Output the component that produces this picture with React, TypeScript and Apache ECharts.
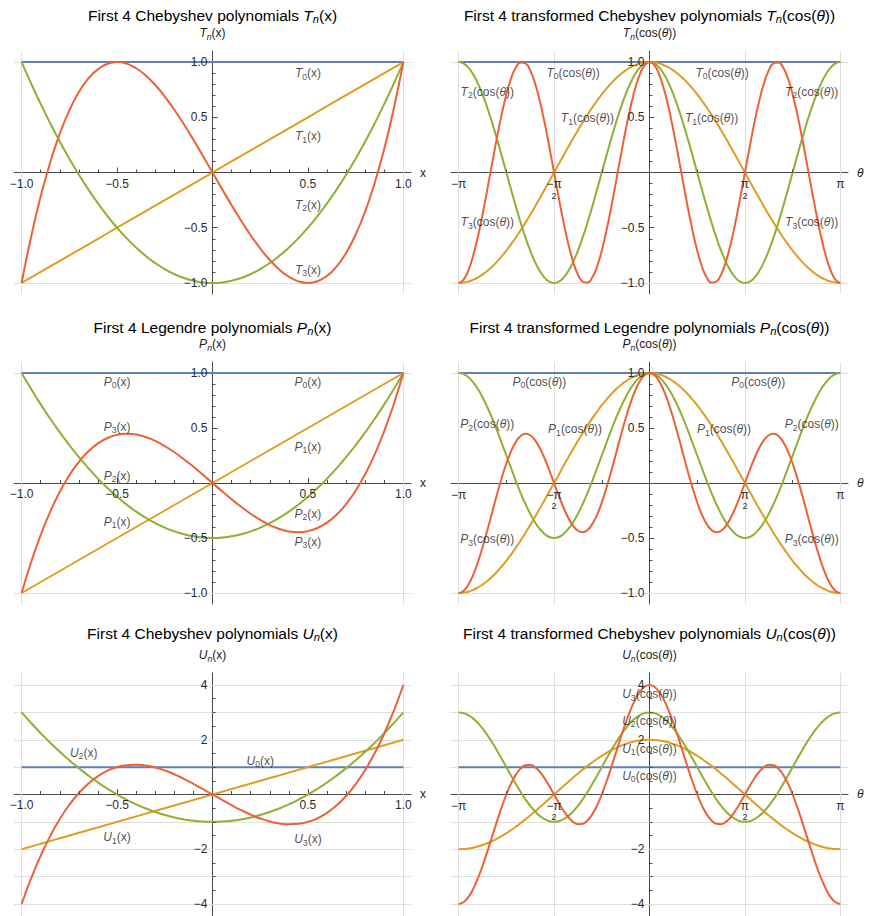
import React, { useEffect, useRef } from 'react';
import * as echarts from 'echarts';

// ---------- data ----------
const xs = [-1, -0.95, -0.9, -0.85, -0.8, -0.75, -0.7, -0.65, -0.6, -0.55, -0.5, -0.45, -0.4, -0.35, -0.3, -0.25, -0.2, -0.15, -0.1, -0.05, 0, 0.05, 0.1, 0.15, 0.2, 0.25, 0.3, 0.35, 0.4, 0.45, 0.5, 0.55, 0.6, 0.65, 0.7, 0.75, 0.8, 0.85, 0.9, 0.95, 1];
// theta in units of pi
const thetaPi = [-1, -0.975, -0.95, -0.925, -0.9, -0.875, -0.85, -0.825, -0.8, -0.775, -0.75, -0.725, -0.7, -0.675, -0.65, -0.625, -0.6, -0.575, -0.55, -0.525, -0.5, -0.475, -0.45, -0.425, -0.4, -0.375, -0.35, -0.325, -0.3, -0.275, -0.25, -0.225, -0.2, -0.175, -0.15, -0.125, -0.1, -0.075, -0.05, -0.025, 0, 0.025, 0.05, 0.075, 0.1, 0.125, 0.15, 0.175, 0.2, 0.225, 0.25, 0.275, 0.3, 0.325, 0.35, 0.375, 0.4, 0.425, 0.45, 0.475, 0.5, 0.525, 0.55, 0.575, 0.6, 0.625, 0.65, 0.675, 0.7, 0.725, 0.75, 0.775, 0.8, 0.825, 0.85, 0.875, 0.9, 0.925, 0.95, 0.975, 1];
const constEnds = [-1, 1];
const constOnes = [1, 1];

const t1x = [-1, -0.95, -0.9, -0.85, -0.8, -0.75, -0.7, -0.65, -0.6, -0.55, -0.5, -0.45, -0.4, -0.35, -0.3, -0.25, -0.2, -0.15, -0.1, -0.05, 0, 0.05, 0.1, 0.15, 0.2, 0.25, 0.3, 0.35, 0.4, 0.45, 0.5, 0.55, 0.6, 0.65, 0.7, 0.75, 0.8, 0.85, 0.9, 0.95, 1];
const t2x = [1, 0.805, 0.62, 0.445, 0.28, 0.125, -0.02, -0.155, -0.28, -0.395, -0.5, -0.595, -0.68, -0.755, -0.82, -0.875, -0.92, -0.955, -0.98, -0.995, -1, -0.995, -0.98, -0.955, -0.92, -0.875, -0.82, -0.755, -0.68, -0.595, -0.5, -0.395, -0.28, -0.155, -0.02, 0.125, 0.28, 0.445, 0.62, 0.805, 1];
const t3x = [-1, -0.5795, -0.216, 0.0935, 0.352, 0.5625, 0.728, 0.8515, 0.936, 0.9845, 1, 0.9855, 0.944, 0.8785, 0.792, 0.6875, 0.568, 0.4365, 0.296, 0.1495, 0, -0.1495, -0.296, -0.4365, -0.568, -0.6875, -0.792, -0.8785, -0.944, -0.9855, -1, -0.9845, -0.936, -0.8515, -0.728, -0.5625, -0.352, -0.0935, 0.216, 0.5795, 1];

const p1x = [-1, -0.95, -0.9, -0.85, -0.8, -0.75, -0.7, -0.65, -0.6, -0.55, -0.5, -0.45, -0.4, -0.35, -0.3, -0.25, -0.2, -0.15, -0.1, -0.05, 0, 0.05, 0.1, 0.15, 0.2, 0.25, 0.3, 0.35, 0.4, 0.45, 0.5, 0.55, 0.6, 0.65, 0.7, 0.75, 0.8, 0.85, 0.9, 0.95, 1];
const p2x = [1, 0.854, 0.715, 0.584, 0.46, 0.344, 0.235, 0.134, 0.04, -0.046, -0.125, -0.196, -0.26, -0.316, -0.365, -0.406, -0.44, -0.466, -0.485, -0.496, -0.5, -0.496, -0.485, -0.466, -0.44, -0.406, -0.365, -0.316, -0.26, -0.196, -0.125, -0.046, 0.04, 0.134, 0.235, 0.344, 0.46, 0.584, 0.715, 0.854, 1];
const p3x = [-1, -0.7184, -0.4725, -0.2603, -0.08, 0.0703, 0.1925, 0.2884, 0.36, 0.4091, 0.4375, 0.4472, 0.44, 0.4178, 0.3825, 0.3359, 0.28, 0.2166, 0.1475, 0.0747, 0, -0.0747, -0.1475, -0.2166, -0.28, -0.3359, -0.3825, -0.4178, -0.44, -0.4472, -0.4375, -0.4091, -0.36, -0.2884, -0.1925, -0.0703, 0.08, 0.2603, 0.4725, 0.7184, 1];

const u1x = [-2, -1.9, -1.8, -1.7, -1.6, -1.5, -1.4, -1.3, -1.2, -1.1, -1, -0.9, -0.8, -0.7, -0.6, -0.5, -0.4, -0.3, -0.2, -0.1, 0, 0.1, 0.2, 0.3, 0.4, 0.5, 0.6, 0.7, 0.8, 0.9, 1, 1.1, 1.2, 1.3, 1.4, 1.5, 1.6, 1.7, 1.8, 1.9, 2];
const u2x = [3, 2.61, 2.24, 1.89, 1.56, 1.25, 0.96, 0.69, 0.44, 0.21, 0, -0.19, -0.36, -0.51, -0.64, -0.75, -0.84, -0.91, -0.96, -0.99, -1, -0.99, -0.96, -0.91, -0.84, -0.75, -0.64, -0.51, -0.36, -0.19, 0, 0.21, 0.44, 0.69, 0.96, 1.25, 1.56, 1.89, 2.24, 2.61, 3];
const u3x = [-4, -3.059, -2.232, -1.513, -0.896, -0.375, 0.056, 0.403, 0.672, 0.869, 1, 1.071, 1.088, 1.057, 0.984, 0.875, 0.736, 0.573, 0.392, 0.199, 0, -0.199, -0.392, -0.573, -0.736, -0.875, -0.984, -1.057, -1.088, -1.071, -1, -0.869, -0.672, -0.403, -0.056, 0.375, 0.896, 1.513, 2.232, 3.059, 4];

const t1t = [-1, -0.997, -0.988, -0.972, -0.951, -0.924, -0.891, -0.853, -0.809, -0.76, -0.707, -0.649, -0.588, -0.522, -0.454, -0.383, -0.309, -0.233, -0.156, -0.078, 0, 0.078, 0.156, 0.233, 0.309, 0.383, 0.454, 0.522, 0.588, 0.649, 0.707, 0.76, 0.809, 0.853, 0.891, 0.924, 0.951, 0.972, 0.988, 0.997,
  1, 0.997, 0.988, 0.972, 0.951, 0.924, 0.891, 0.853, 0.809, 0.76, 0.707, 0.649, 0.588, 0.522, 0.454, 0.383, 0.309, 0.233, 0.156, 0.078, 0, -0.078, -0.156, -0.233, -0.309, -0.383, -0.454, -0.522, -0.588, -0.649, -0.707, -0.76, -0.809, -0.853, -0.891, -0.924, -0.951, -0.972, -0.988, -0.997, -1];
const t2t = [1, 0.988, 0.951, 0.891, 0.809, 0.707, 0.588, 0.454, 0.309, 0.156, 0, -0.156, -0.309, -0.454, -0.588, -0.707, -0.809, -0.891, -0.951, -0.988, -1, -0.988, -0.951, -0.891, -0.809, -0.707, -0.588, -0.454, -0.309, -0.156, 0, 0.156, 0.309, 0.454, 0.588, 0.707, 0.809, 0.891, 0.951, 0.988,
  1, 0.988, 0.951, 0.891, 0.809, 0.707, 0.588, 0.454, 0.309, 0.156, 0, -0.156, -0.309, -0.454, -0.588, -0.707, -0.809, -0.891, -0.951, -0.988, -1, -0.988, -0.951, -0.891, -0.809, -0.707, -0.588, -0.454, -0.309, -0.156, 0, 0.156, 0.309, 0.454, 0.588, 0.707, 0.809, 0.891, 0.951, 0.988, 1];
const t3t = [-1, -0.972, -0.891, -0.76, -0.588, -0.383, -0.156, 0.078, 0.309, 0.522, 0.707, 0.853, 0.951, 0.997, 0.988, 0.924, 0.809, 0.649, 0.454, 0.233, 0, -0.233, -0.454, -0.649, -0.809, -0.924, -0.988, -0.997, -0.951, -0.853, -0.707, -0.522, -0.309, -0.078, 0.156, 0.383, 0.588, 0.76, 0.891, 0.972,
  1, 0.972, 0.891, 0.76, 0.588, 0.383, 0.156, -0.078, -0.309, -0.522, -0.707, -0.853, -0.951, -0.997, -0.988, -0.924, -0.809, -0.649, -0.454, -0.233, 0, 0.233, 0.454, 0.649, 0.809, 0.924, 0.988, 0.997, 0.951, 0.853, 0.707, 0.522, 0.309, 0.078, -0.156, -0.383, -0.588, -0.76, -0.891, -0.972, -1];

const p1t = [-1, -0.997, -0.988, -0.972, -0.951, -0.924, -0.891, -0.853, -0.809, -0.76, -0.707, -0.649, -0.588, -0.522, -0.454, -0.383, -0.309, -0.233, -0.156, -0.078, 0, 0.078, 0.156, 0.233, 0.309, 0.383, 0.454, 0.522, 0.588, 0.649, 0.707, 0.76, 0.809, 0.853, 0.891, 0.924, 0.951, 0.972, 0.988, 0.997,
  1, 0.997, 0.988, 0.972, 0.951, 0.924, 0.891, 0.853, 0.809, 0.76, 0.707, 0.649, 0.588, 0.522, 0.454, 0.383, 0.309, 0.233, 0.156, 0.078, 0, -0.078, -0.156, -0.233, -0.309, -0.383, -0.454, -0.522, -0.588, -0.649, -0.707, -0.76, -0.809, -0.853, -0.891, -0.924, -0.951, -0.972, -0.988, -0.997, -1];
const p2t = [1, 0.991, 0.963, 0.918, 0.857, 0.78, 0.691, 0.591, 0.482, 0.367, 0.25, 0.133, 0.018, -0.091, -0.191, -0.28, -0.357, -0.418, -0.463, -0.491, -0.5, -0.491, -0.463, -0.418, -0.357, -0.28, -0.191, -0.091, 0.018, 0.133, 0.25, 0.367, 0.482, 0.591, 0.691, 0.78, 0.857, 0.918, 0.963, 0.991,
  1, 0.991, 0.963, 0.918, 0.857, 0.78, 0.691, 0.591, 0.482, 0.367, 0.25, 0.133, 0.018, -0.091, -0.191, -0.28, -0.357, -0.418, -0.463, -0.491, -0.5, -0.491, -0.463, -0.418, -0.357, -0.28, -0.191, -0.091, 0.018, 0.133, 0.25, 0.367, 0.482, 0.591, 0.691, 0.78, 0.857, 0.918, 0.963, 0.991, 1];
const p3t = [-1, -0.981, -0.927, -0.84, -0.724, -0.586, -0.432, -0.271, -0.11, 0.041, 0.177, 0.29, 0.374, 0.427, 0.447, 0.434, 0.39, 0.318, 0.225, 0.116, 0, -0.116, -0.225, -0.318, -0.39, -0.434, -0.447, -0.427, -0.374, -0.29, -0.177, -0.041, 0.11, 0.271, 0.432, 0.586, 0.724, 0.84, 0.927, 0.981,
  1, 0.981, 0.927, 0.84, 0.724, 0.586, 0.432, 0.271, 0.11, -0.041, -0.177, -0.29, -0.374, -0.427, -0.447, -0.434, -0.39, -0.318, -0.225, -0.116, 0, 0.116, 0.225, 0.318, 0.39, 0.434, 0.447, 0.427, 0.374, 0.29, 0.177, 0.041, -0.11, -0.271, -0.432, -0.586, -0.724, -0.84, -0.927, -0.981, -1];

const u1t = [-2, -1.994, -1.975, -1.945, -1.902, -1.848, -1.782, -1.705, -1.618, -1.521, -1.414, -1.299, -1.176, -1.045, -0.908, -0.765, -0.618, -0.467, -0.313, -0.157, 0, 0.157, 0.313, 0.467, 0.618, 0.765, 0.908, 1.045, 1.176, 1.299, 1.414, 1.521, 1.618, 1.705, 1.782, 1.848, 1.902, 1.945, 1.975, 1.994,
  2, 1.994, 1.975, 1.945, 1.902, 1.848, 1.782, 1.705, 1.618, 1.521, 1.414, 1.299, 1.176, 1.045, 0.908, 0.765, 0.618, 0.467, 0.313, 0.157, 0, -0.157, -0.313, -0.467, -0.618, -0.765, -0.908, -1.045, -1.176, -1.299, -1.414, -1.521, -1.618, -1.705, -1.782, -1.848, -1.902, -1.945, -1.975, -1.994, -2];
const u2t = [3, 2.975, 2.902, 2.782, 2.618, 2.414, 2.176, 1.908, 1.618, 1.313, 1, 0.687, 0.382, 0.092, -0.176, -0.414, -0.618, -0.782, -0.902, -0.975, -1, -0.975, -0.902, -0.782, -0.618, -0.414, -0.176, 0.092, 0.382, 0.687, 1, 1.313, 1.618, 1.908, 2.176, 2.414, 2.618, 2.782, 2.902, 2.975,
  3, 2.975, 2.902, 2.782, 2.618, 2.414, 2.176, 1.908, 1.618, 1.313, 1, 0.687, 0.382, 0.092, -0.176, -0.414, -0.618, -0.782, -0.902, -0.975, -1, -0.975, -0.902, -0.782, -0.618, -0.414, -0.176, 0.092, 0.382, 0.687, 1, 1.313, 1.618, 1.908, 2.176, 2.414, 2.618, 2.782, 2.902, 2.975, 3];
const u3t = [-4, -3.939, -3.757, -3.466, -3.078, -2.613, -2.095, -1.548, -1, -0.476, 0, 0.406, 0.726, 0.949, 1.067, 1.083, 1, 0.832, 0.595, 0.31, 0, -0.31, -0.595, -0.832, -1, -1.083, -1.067, -0.949, -0.726, -0.406, 0, 0.476, 1, 1.548, 2.095, 2.613, 3.078, 3.466, 3.757, 3.939,
  4, 3.939, 3.757, 3.466, 3.078, 2.613, 2.095, 1.548, 1, 0.476, 0, -0.406, -0.726, -0.949, -1.067, -1.083, -1, -0.832, -0.595, -0.31, 0, 0.31, 0.595, 0.832, 1, 1.083, 1.067, 0.949, 0.726, 0.406, 0, -0.476, -1, -1.548, -2.095, -2.613, -3.078, -3.466, -3.757, -3.939, -4];

// tick values
const xMajor = [-1, -0.5, 0.5, 1];
const xMinor = [-0.9, -0.8, -0.7, -0.6, -0.4, -0.3, -0.2, -0.1, 0.1, 0.2, 0.3, 0.4, 0.6, 0.7, 0.8, 0.9];
const thMajor = [-1, -0.5, 0.5, 1];
const thMinor = [-0.75, -0.25, 0.25, 0.75];
const yMajor1 = [-1, -0.5, 0.5, 1];
const yMinor1 = [-0.9, -0.8, -0.7, -0.6, -0.4, -0.3, -0.2, -0.1, 0.1, 0.2, 0.3, 0.4, 0.6, 0.7, 0.8, 0.9];
const yMajorU = [-4, -2, 2, 4];
const yMinorU = [-3.5, -3, -2.5, -1.5, -1, -0.5, 0.5, 1, 1.5, 2.5, 3, 3.5];
const gridX = [-1, 1];
const gridTh = [-1, -0.5, 0.5, 1];
const gridY1 = [-1, 1];
const gridYU = [-4, -3, -2, -1, 1, 2, 3, 4];

// curve label anchors (data coordinates)
const labelsTx = [{ n: '0', x: 0.5, y: 0.9 }, { n: '1', x: 0.5, y: 0.33 }, { n: '2', x: 0.5, y: -0.29 }, { n: '3', x: 0.5, y: -0.88 }];
const labelsTt = [{ n: '0', x: -0.4, y: 0.905 }, { n: '0', x: 0.38, y: 0.905 }, { n: '2', x: -0.85, y: 0.73 }, { n: '2', x: 0.85, y: 0.73 }, { n: '1', x: -0.325, y: 0.49 }, { n: '1', x: 0.325, y: 0.49 }, { n: '3', x: -0.85, y: -0.45 }, { n: '3', x: 0.85, y: -0.45 }];
const labelsPx = [{ n: '0', x: -0.5, y: 0.92 }, { n: '0', x: 0.5, y: 0.92 }, { n: '3', x: -0.5, y: 0.51 }, { n: '2', x: -0.5, y: 0.065 }, { n: '1', x: -0.5, y: -0.35 }, { n: '1', x: 0.5, y: 0.33 }, { n: '2', x: 0.5, y: -0.28 }, { n: '3', x: 0.5, y: -0.535 }];
const labelsPt = [{ n: '0', x: -0.577, y: 0.92 }, { n: '0', x: 0.57, y: 0.92 }, { n: '2', x: -0.85, y: 0.535 }, { n: '2', x: 0.85, y: 0.535 }, { n: '1', x: -0.39, y: 0.49 }, { n: '1', x: 0.39, y: 0.49 }, { n: '3', x: -0.85, y: -0.51 }, { n: '3', x: 0.85, y: -0.51 }];
const labelsUx = [{ n: '2', x: -0.675, y: 1.53 }, { n: '0', x: 0.25, y: 1.24 }, { n: '1', x: -0.5, y: -1.56 }, { n: '3', x: 0.5, y: -1.64 }];
const labelsUt = [{ n: '3', x: 0, y: 3.67 }, { n: '2', x: 0, y: 2.69 }, { n: '1', x: 0, y: 1.67 }, { n: '0', x: 0, y: 0.69 }];

const titlesText = [
  ['First 4 Chebyshev polynomials ', 'T', 'x'],
  ['First 4 transformed Chebyshev polynomials ', 'T', 't'],
  ['First 4 Legendre polynomials ', 'P', 'x'],
  ['First 4 transformed Legendre polynomials ', 'P', 't'],
  ['First 4 Chebyshev polynomials ', 'U', 'x'],
  ['First 4 transformed Chebyshev polynomials ', 'U', 't'],
];

// ---------- styling ----------
const FF = '"Liberation Sans", Arial, Helvetica, sans-serif';
const COLORS = ['#5E81B5', '#E19C24', '#8FB032', '#EB6235'];
const AX = '#4a4a4a';
const TXT = '#1a1a1a';
const TICKTXT = '#2a2a2a';
const GRIDC = '#dedede';

function richSet(size: number, color: string) {
  const sub = Math.round(size * 0.72 * 10) / 10;
  return {
    r: { fontFamily: FF, fontSize: size, color, lineHeight: size + 4 },
    i: { fontFamily: FF, fontSize: size, color, lineHeight: size + 4, fontStyle: 'italic' },
    s: { fontFamily: FF, fontSize: sub, color, lineHeight: sub + 2, verticalAlign: 'bottom' },
    si: { fontFamily: FF, fontSize: sub, color, lineHeight: sub + 2, verticalAlign: 'bottom', fontStyle: 'italic' },
  };
}

const argText = (kind: string) => (kind === 'x' ? '{r|(x)}' : '{r|(cos(}{i|θ}{r|))}');
const fnText = (fam: string, n: string, kind: string) =>
  `{i|${fam}}{${n === 'n' ? 'si' : 's'}|${n}}${argText(kind)}`;

const fmtNum = (v: number, dec: number) => (v < 0 ? '\u2212' : '') + Math.abs(v).toFixed(dec);
const fmtPi = (v: number) => {
  if (v === -1) return '{m|\u2212}{p|π}';
  if (v === -0.5) return '{m|\u2212}{p|π}\n{d|2}';
  if (v === 0.5) return '{p|π}\n{d|2}';
  return '{p|π}';
};
const piRich = {
  m: { fontFamily: FF, fontSize: 12, color: TICKTXT, lineHeight: 13 },
  p: { fontFamily: FF, fontSize: 12, color: TICKTXT, lineHeight: 13 },
  d: { fontFamily: FF, fontSize: 9, color: TICKTXT, lineHeight: 10 },
};

const colLeft = [14, 451];
const gridW = 397;
const rowTop = [51, 362, 673];
const rowH = [243, 242, 244];
const titleCx = [212.5, 649.5];
const titleCy = [15, 327, 633];
const X_MIN = -1.04;
const X_MAX = 1.04;

type Panel = {
  fam: string; kind: string; yMin: number; yMax: number;
  yMajor: number[]; yMinor: number[]; yGrid: number[]; yDec: number;
  curves: { x: number[]; y: number[] }[];
  labels: { n: string; x: number; y: number }[];
};

const panels: Panel[] = [
  { fam: 'T', kind: 'x', yMin: -1.1, yMax: 1.1, yMajor: yMajor1, yMinor: yMinor1, yGrid: gridY1, yDec: 1,
    curves: [{ x: constEnds, y: constOnes }, { x: xs, y: t1x }, { x: xs, y: t2x }, { x: xs, y: t3x }], labels: labelsTx },
  { fam: 'T', kind: 't', yMin: -1.1, yMax: 1.1, yMajor: yMajor1, yMinor: yMinor1, yGrid: gridY1, yDec: 1,
    curves: [{ x: constEnds, y: constOnes }, { x: thetaPi, y: t1t }, { x: thetaPi, y: t2t }, { x: thetaPi, y: t3t }], labels: labelsTt },
  { fam: 'P', kind: 'x', yMin: -1.1, yMax: 1.1, yMajor: yMajor1, yMinor: yMinor1, yGrid: gridY1, yDec: 1,
    curves: [{ x: constEnds, y: constOnes }, { x: xs, y: p1x }, { x: xs, y: p2x }, { x: xs, y: p3x }], labels: labelsPx },
  { fam: 'P', kind: 't', yMin: -1.1, yMax: 1.1, yMajor: yMajor1, yMinor: yMinor1, yGrid: gridY1, yDec: 1,
    curves: [{ x: constEnds, y: constOnes }, { x: thetaPi, y: p1t }, { x: thetaPi, y: p2t }, { x: thetaPi, y: p3t }], labels: labelsPt },
  { fam: 'U', kind: 'x', yMin: -4.44, yMax: 4.44, yMajor: yMajorU, yMinor: yMinorU, yGrid: gridYU, yDec: 0,
    curves: [{ x: constEnds, y: constOnes }, { x: xs, y: u1x }, { x: xs, y: u2x }, { x: xs, y: u3x }], labels: labelsUx },
  { fam: 'U', kind: 't', yMin: -4.44, yMax: 4.44, yMajor: yMajorU, yMinor: yMinorU, yGrid: gridYU, yDec: 0,
    curves: [{ x: constEnds, y: constOnes }, { x: thetaPi, y: u1t }, { x: thetaPi, y: u2t }, { x: thetaPi, y: u3t }], labels: labelsUt },
];

function buildOption() {
  const grids: any[] = [];
  const xAxes: any[] = [];
  const yAxes: any[] = [];
  const series: any[] = [];
  const graphics: any[] = [];
  const rich12 = richSet(12, TXT);
  const rich15 = richSet(15.5, TXT);

  panels.forEach((p, i) => {
    const col = i % 2;
    const row = Math.floor(i / 2);
    const h = rowH[row];
    grids.push({ left: colLeft[col], top: rowTop[row], width: gridW, height: h });
    const isT = p.kind === 't';
    const xMaj = isT ? thMajor : xMajor;
    const xMin = isT ? thMinor : xMinor;
    // axes through the origin: offset inward from the bottom / left edge
    const xOffset = -h * (0 - p.yMin) / (p.yMax - p.yMin);
    const yOffset = -gridW * (0 - X_MIN) / (X_MAX - X_MIN);
    const common = { type: 'value', gridIndex: i, min: X_MIN, max: X_MAX, position: 'bottom', offset: xOffset, splitLine: { show: false } };
    // axis line, major ticks, name (drawn beneath the curves)
    xAxes.push({
      ...common,
      z: 0,
      axisLine: { show: true, onZero: false, lineStyle: { color: AX, width: 1 } },
      axisTick: { show: true, inside: true, length: 5, customValues: xMaj, lineStyle: { color: AX, width: 1 } },
      axisLabel: { show: false },
      name: isT ? '{i|θ}' : '{r|x}',
      nameLocation: 'end',
      nameGap: 9,
      nameTextStyle: { rich: rich12 },
    });
    // minor ticks + tick labels (drawn above the curves)
    xAxes.push({
      ...common,
      z: 5,
      axisLine: { show: false, onZero: false },
      axisTick: { show: true, inside: true, length: 3, customValues: xMin, lineStyle: { color: AX, width: 1 } },
      axisLabel: {
        show: true, customValues: xMaj, margin: 5, color: TICKTXT, fontFamily: FF, fontSize: 12,
        formatter: (v: number) => (isT ? fmtPi(v) : fmtNum(v, 1)),
        rich: piRich,
      },
    });
    const ycommon = { type: 'value', gridIndex: i, min: p.yMin, max: p.yMax, position: 'left', offset: yOffset, splitLine: { show: false } };
    yAxes.push({
      ...ycommon,
      z: 0,
      axisLine: { show: true, onZero: false, lineStyle: { color: AX, width: 1 } },
      axisTick: { show: true, inside: true, length: 5, customValues: p.yMajor, lineStyle: { color: AX, width: 1 } },
      axisLabel: { show: false },
      name: fnText(p.fam, 'n', p.kind),
      nameLocation: 'end',
      nameGap: 10,
      nameTextStyle: { rich: rich12 },
    });
    yAxes.push({
      ...ycommon,
      z: 5,
      axisLine: { show: false, onZero: false },
      axisTick: { show: true, inside: true, length: 3, customValues: p.yMinor, lineStyle: { color: AX, width: 1 } },
      axisLabel: {
        show: true, customValues: p.yMajor, margin: 5, color: TICKTXT, fontFamily: FF, fontSize: 12,
        formatter: (v: number) => fmtNum(v, p.yDec),
      },
    });

    // grid lines
    series.push({
      type: 'line', xAxisIndex: 2 * i, yAxisIndex: 2 * i, data: [], silent: true, z: 1,
      markLine: {
        silent: true, symbol: ['none', 'none'], z: 1, animation: false,
        label: { show: false },
        lineStyle: { color: GRIDC, width: 1, type: 'solid' },
        data: [
          ...(isT ? gridTh : gridX).map((v) => ({ xAxis: v })),
          ...p.yGrid.map((v) => ({ yAxis: v })),
        ],
      },
    });

    p.curves.forEach((c, k) => {
      series.push({
        type: 'line', xAxisIndex: 2 * i, yAxisIndex: 2 * i,
        data: c.x.map((x, j) => [x, c.y[j]]),
        showSymbol: false, symbol: 'none', smooth: true, silent: true, z: 2 + k * 0.01,
        lineStyle: { color: COLORS[k], width: 2 },
        itemStyle: { color: COLORS[k] },
      });
    });

    series.push({
      type: 'scatter', xAxisIndex: 2 * i, yAxisIndex: 2 * i, symbolSize: 0, silent: true, z: 10,
      itemStyle: { color: 'transparent' },
      label: { show: true, position: 'inside', rich: rich12, textBorderWidth: 0, color: TXT },
      data: p.labels.map((l) => ({ value: [l.x, l.y], label: { formatter: fnText(p.fam, l.n, p.kind) } })),
    });

    const t = titlesText[i];
    graphics.push({
      type: 'text', x: titleCx[col], y: titleCy[row], silent: true,
      style: {
        text: `{r|${t[0]}}` + fnText(t[1], 'n', t[2]),
        rich: rich15,
        align: 'center', verticalAlign: 'middle',
      },
    });
  });

  return {
    animation: false,
    backgroundColor: '#ffffff',
    grid: grids,
    xAxis: xAxes,
    yAxis: yAxes,
    series,
    graphic: graphics,
  };
}

export default function App() {
  const ref = useRef<HTMLDivElement>(null);
  useEffect(() => {
    if (!ref.current) return;
    const chart = echarts.init(ref.current, undefined, { renderer: 'svg' });
    chart.setOption(buildOption() as any);
    return () => chart.dispose();
  }, []);
  return (
    <div
      ref={ref}
      style={{ position: 'absolute', left: 0, top: 0, width: 870, height: 916, background: '#fff' }}
    />
  );
}
